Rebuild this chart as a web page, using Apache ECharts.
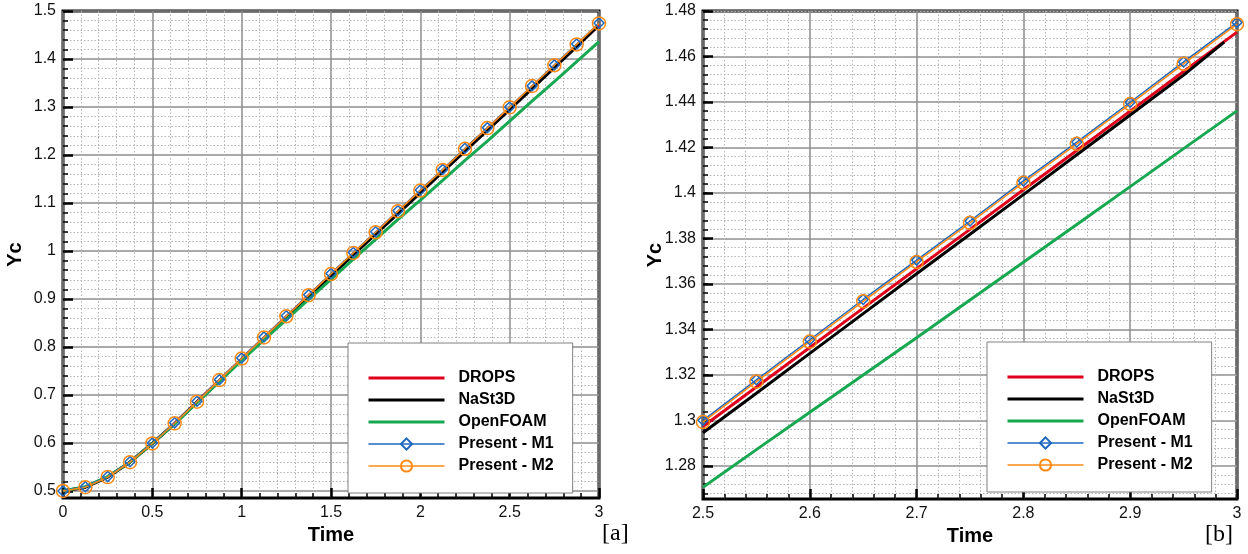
<!DOCTYPE html>
<html>
<head>
<meta charset="utf-8">
<script src="https://cdn.jsdelivr.net/npm/echarts@6/dist/echarts.min.js"></script>
<style>
  html, body { margin: 0; padding: 0; background: #fff; }
  #chart { width: 1248px; height: 554px; }
</style>
</head>
<body>
<div id="chart"></div>
<script>
  // panel [a] : whole run, markers every 0.125
  var timeA = [0, 0.125, 0.25, 0.375, 0.5, 0.625, 0.75, 0.875, 1, 1.125, 1.25, 1.375, 1.5,
    1.625, 1.75, 1.875, 2, 2.125, 2.25, 2.375, 2.5, 2.625, 2.75, 2.875, 3];
  var nastTimeA = [0, 0.125, 0.25, 0.375, 0.5, 0.625, 0.75, 0.875, 1, 1.125, 1.25, 1.375, 1.5,
    1.625, 1.75, 1.875, 2, 2.125, 2.25, 2.375, 2.5, 2.625, 2.75, 2.875, 2.988];
  var dropsA = [0.500, 0.508, 0.529, 0.560, 0.599, 0.641, 0.686, 0.730, 0.775, 0.819, 0.863, 0.907, 0.950,
    0.994, 1.037, 1.081, 1.124, 1.167, 1.211, 1.254, 1.2974, 1.3407, 1.3840, 1.4274, 1.4707];
  var nastA = [0.500, 0.508, 0.529, 0.560, 0.599, 0.640, 0.685, 0.729, 0.774, 0.818, 0.861, 0.905, 0.948,
    0.992, 1.035, 1.078, 1.121, 1.165, 1.208, 1.251, 1.2946, 1.3383, 1.3819, 1.4255, 1.4663];
  var foamA = [0.500, 0.509, 0.530, 0.560, 0.599, 0.640, 0.684, 0.728, 0.772, 0.815, 0.857, 0.899, 0.941,
    0.983, 1.024, 1.066, 1.106, 1.147, 1.189, 1.229, 1.2707, 1.3120, 1.3530, 1.3945, 1.4361];
  var m1A = [0.500, 0.509, 0.530, 0.561, 0.600, 0.642, 0.687, 0.732, 0.777, 0.821, 0.865, 0.909, 0.953,
    0.997, 1.040, 1.084, 1.127, 1.170, 1.214, 1.257, 1.3001, 1.3440, 1.3877, 1.4313, 1.4750];
  var m2A = [0.500, 0.508, 0.529, 0.560, 0.599, 0.641, 0.686, 0.731, 0.776, 0.820, 0.864, 0.908, 0.952,
    0.996, 1.039, 1.083, 1.126, 1.169, 1.213, 1.256, 1.2993, 1.3436, 1.3869, 1.4304, 1.4742];

  // panel [b] : close-up 2.5 - 3, markers every 0.05
  var timeB = [2.5, 2.55, 2.6, 2.65, 2.7, 2.75, 2.8, 2.85, 2.9, 2.95, 3];
  var nastTimeB = [2.5, 2.55, 2.6, 2.65, 2.7, 2.75, 2.8, 2.85, 2.9, 2.95, 2.988];
  var dropsB = [1.2974, 1.3147, 1.3321, 1.3494, 1.3667, 1.3840, 1.4014, 1.4187, 1.4360, 1.4534, 1.4707];
  var nastB = [1.2946, 1.3120, 1.3295, 1.3470, 1.3645, 1.3819, 1.3993, 1.4168, 1.4343, 1.4518, 1.4663];
  var foamB = [1.2707, 1.2872, 1.3036, 1.3200, 1.3364, 1.3530, 1.3696, 1.3862, 1.4028, 1.4195, 1.4361];
  var m1B = [1.3001, 1.3179, 1.3355, 1.3532, 1.3705, 1.3877, 1.4053, 1.4224, 1.4399, 1.4576, 1.4750];
  var m2B = [1.2993, 1.3171, 1.3347, 1.3524, 1.3697, 1.3869, 1.4045, 1.4216, 1.4391, 1.4568, 1.4742];

  var names = ['DROPS', 'NaSt3D', 'OpenFOAM', 'Present - M1', 'Present - M2'];

  var FONT = '"Liberation Sans", Arial, sans-serif';
  var NOFILL = 'rgba(255,255,255,0)';
  var majorGrid = { show: true, lineStyle: { color: '#8c8c8c', width: 1.5 } };
  var minorGrid = { show: true, lineStyle: { color: '#b4b4b4', width: 1, type: [1.5, 2] } };
  var tickLabel = { fontSize: 16, color: '#111', fontFamily: FONT, margin: 7 };
  var majorTick = { show: true, inside: true, length: 10, lineStyle: { color: '#000', width: 2.5 } };
  var minorTick = { show: true, inside: true, length: 5, splitNumber: 5, lineStyle: { color: '#000', width: 1.5 } };
  var axisName = { fontSize: 20, fontWeight: 'bold', color: '#000', fontFamily: FONT };

  function pairs(t, v) {
    return t.map(function (x, i) { return [x, v[i]]; });
  }

  function seriesFor(xi, yi, tt, tn, d, n, f, a, b) {
    return [{
        name: 'DROPS', type: 'line', xAxisIndex: xi, yAxisIndex: yi, symbol: 'none',
        lineStyle: { color: '#e0001c', width: 3 }, itemStyle: { color: NOFILL },
        data: pairs(tt, d)
      },
      {
        name: 'NaSt3D', type: 'line', xAxisIndex: xi, yAxisIndex: yi, symbol: 'none',
        lineStyle: { color: '#000', width: 3 }, itemStyle: { color: NOFILL },
        data: pairs(tn, n)
      },
      {
        name: 'OpenFOAM', type: 'line', xAxisIndex: xi, yAxisIndex: yi, symbol: 'none',
        lineStyle: { color: '#17a851', width: 3 }, itemStyle: { color: NOFILL },
        data: pairs(tt, f)
      },
      {
        name: 'Present - M1', type: 'line', xAxisIndex: xi, yAxisIndex: yi,
        symbol: 'diamond', symbolSize: 10, showAllSymbol: true,
        lineStyle: { color: '#1f68c0', width: 1.5 },
        itemStyle: { color: NOFILL, borderColor: '#1f68c0', borderWidth: 1.5 },
        data: pairs(tt, a)
      },
      {
        name: 'Present - M2', type: 'line', xAxisIndex: xi, yAxisIndex: yi,
        symbol: 'circle', symbolSize: 13, showAllSymbol: true,
        lineStyle: { color: '#ff8a14', width: 1.5 },
        itemStyle: { color: NOFILL, borderColor: '#ff8a14', borderWidth: 1.5 },
        data: pairs(tt, b)
      }
    ];
  }

  function legendAt(left, top) {
    return {
      left: left, top: top, orient: 'vertical',
      itemWidth: 76, itemHeight: 14, itemGap: 6,
      padding: [27, 19, 19, 19],
      backgroundColor: '#fff', borderColor: '#808080', borderWidth: 1,
      selectedMode: false, z: 10,
      lineStyle: { width: 'inherit' },
      textStyle: { fontSize: 16, fontWeight: 'bold', color: '#000', fontFamily: FONT, padding: [0, 0, 0, 9], lineHeight: 14 },
      data: names
    };
  }

  var myChart = echarts.init(document.getElementById('chart'));
  myChart.setOption({
    animation: false,
    backgroundColor: '#fff',
    grid: [
      // [a] data frame, ticks grid
      { left: 63, top: 11, width: 536, height: 487, show: true, borderColor: '#000', borderWidth: 3, backgroundColor: 'transparent' },
      { left: 63, top: 11, width: 536, height: 480 },
      // [b] data frame, ticks grid, minor grid
      { left: 703, top: 11, width: 534, height: 488, show: true, borderColor: '#000', borderWidth: 3, backgroundColor: 'transparent' },
      { left: 703, top: 11, width: 534, height: 455 },
      { left: 703, top: 11, width: 534, height: 482.3 }
    ],
    xAxis: [{
        gridIndex: 0, type: 'value', min: 0, max: 3, interval: 0.5,
        axisLine: { show: false }, axisTick: majorTick, minorTick: minorTick,
        axisLabel: tickLabel, splitLine: majorGrid, minorSplitLine: minorGrid,
        name: 'Time', nameLocation: 'middle', nameGap: 17, nameTextStyle: axisName
      },
      { gridIndex: 1, type: 'value', min: 0, max: 3, show: false },
      {
        gridIndex: 2, type: 'value', min: 2.5, max: 3, interval: 0.1,
        axisLine: { show: false }, axisTick: majorTick, minorTick: minorTick,
        axisLabel: tickLabel, splitLine: majorGrid, minorSplitLine: minorGrid,
        name: 'Time', nameLocation: 'middle', nameGap: 17, nameTextStyle: axisName
      },
      { gridIndex: 3, type: 'value', min: 2.5, max: 3, show: false },
      { gridIndex: 4, type: 'value', min: 2.5, max: 3, show: false }
    ],
    yAxis: [{
        gridIndex: 0, type: 'value', min: 0.4854, max: 1.5,
        axisLine: { show: false }, axisTick: { show: false }, axisLabel: { show: false }, splitLine: { show: false },
        name: 'Yc', nameLocation: 'middle', nameGap: 38, nameTextStyle: axisName
      },
      {
        gridIndex: 1, type: 'value', min: 0.5, max: 1.5, interval: 0.1,
        axisLine: { show: false }, axisTick: majorTick, minorTick: minorTick,
        axisLabel: tickLabel, splitLine: majorGrid, minorSplitLine: minorGrid
      },
      {
        gridIndex: 2, type: 'value', min: 1.2655, max: 1.48,
        axisLine: { show: false }, axisTick: { show: false }, axisLabel: { show: false }, splitLine: { show: false },
        name: 'Yc', nameLocation: 'middle', nameGap: 38, nameTextStyle: axisName
      },
      {
        gridIndex: 3, type: 'value', min: 1.28, max: 1.48, interval: 0.02,
        axisLine: { show: false }, axisTick: majorTick,
        axisLabel: tickLabel, splitLine: majorGrid
      },
      {
        gridIndex: 4, type: 'value', min: 1.268, max: 1.48, interval: 0.004,
        axisLine: { show: false }, axisLabel: { show: false },
        axisTick: { show: true, inside: true, length: 5, lineStyle: { color: '#000', width: 1.5 } },
        splitLine: minorGrid
      }
    ],
    legend: [legendAt(348, 343), legendAt(987, 342)],
    graphic: [
      { type: 'text', left: 602, top: 522, style: { text: '[a]', fontSize: 24, fontFamily: '"Liberation Serif", "DejaVu Serif", serif', fill: '#000' } },
      { type: 'text', left: 1205, top: 523, style: { text: '[b]', fontSize: 24, fontFamily: '"Liberation Serif", "DejaVu Serif", serif', fill: '#000' } }
    ],
    series: seriesFor(0, 0, timeA, nastTimeA, dropsA, nastA, foamA, m1A, m2A)
      .concat(seriesFor(2, 2, timeB, nastTimeB, dropsB, nastB, foamB, m1B, m2B))
  });
</script>
</body>
</html>
